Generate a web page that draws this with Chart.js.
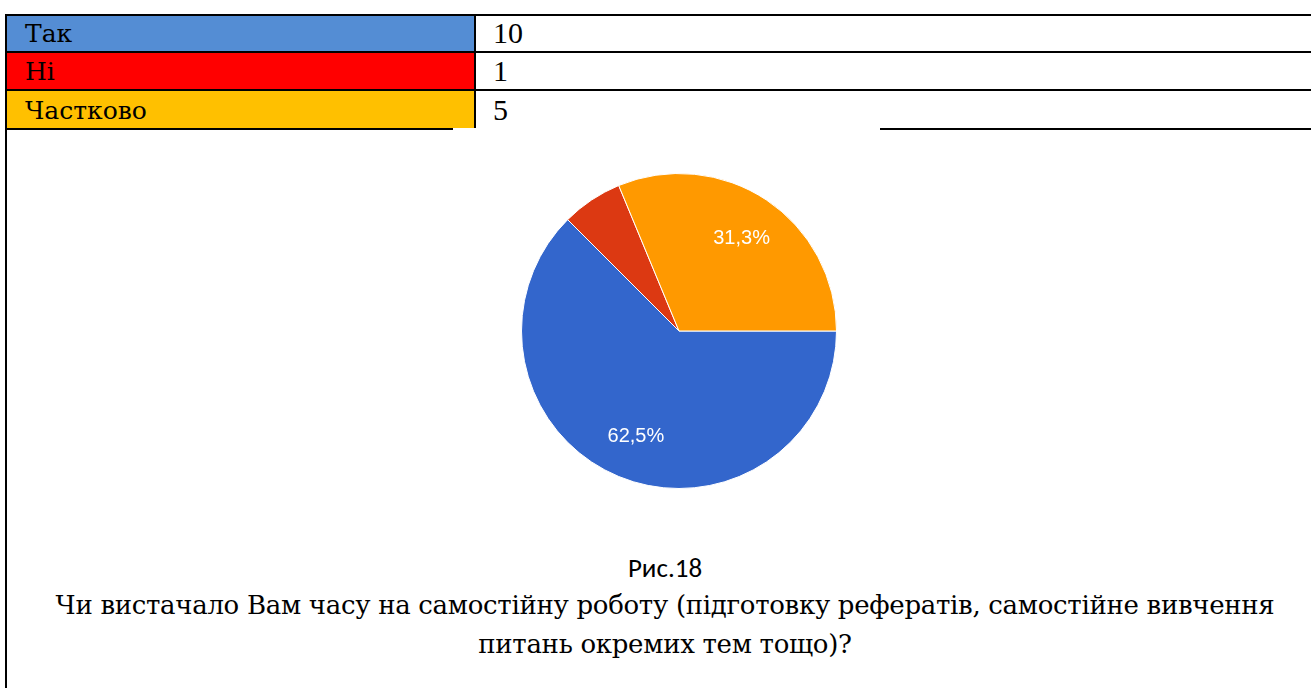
<!DOCTYPE html>
<html lang="uk">
<head>
<meta charset="utf-8">
<title>Рис.18</title>
<script src="https://cdn.jsdelivr.net/npm/chart.js@4.4.1/dist/chart.umd.min.js"></script>
<style>
  html, body { margin: 0; padding: 0; background: #fff; }
  body { width: 1311px; height: 688px; position: relative; overflow: hidden; }
  .rule { position: absolute; background: #000; }
  .fill { position: absolute; }
  .cell {
    position: absolute; white-space: nowrap; color: #000;
    font-family: "DejaVu Serif", serif;
    font-size: 25px; line-height: 36px;
  }
  .cell.num { font-family: "Liberation Serif", "Times New Roman", serif; font-size: 30px; }
  #pie-wrap { position: absolute; left: 479px; top: 131px; width: 400px; height: 400px; }
  #fig-num {
    position: absolute; left: 0; width: 1330px; top: 551px; text-align: center;
    font-family: Calibri, Carlito, "Open Sans", sans-serif; font-size: 27px; line-height: 33px;
  }
  #fig-title {
    position: absolute; left: 0; width: 1330px; top: 586px; text-align: center;
    font-family: "DejaVu Serif", serif; font-size: 26px; line-height: 39px;
    letter-spacing: -0.3px;
  }
</style>
</head>
<body>
<div id="table"></div>
<div id="pie-wrap"><canvas id="chart-pie"></canvas></div>
<div id="fig-num">Рис.18</div>
<div id="fig-title">Чи вистачало Вам часу на самостійну роботу (підготовку рефератів, самостійне вивчення<br>питань окремих тем тощо)?</div>

<script>
// відповіді та кількість
const LABELS = ['Так', 'Ні', 'Частково'];
const VALUES = [10, 1, 5];
const TABLE_COLORS = ['#548dd4', '#ff0000', '#ffc000'];
const PIE_COLORS = ['#3366cc', '#dc3912', '#ff9900'];

// таблиця над діаграмою
function buildTable() {
  const root = document.getElementById('table');
  const add = (cls, css, text) => {
    const d = document.createElement('div');
    d.className = cls;
    Object.assign(d.style, css);
    if (text != null) d.textContent = text;
    root.appendChild(d);
  };
  const rowLines = [14, 51, 89];
  LABELS.forEach((lab, i) => {
    const top = rowLines[i] + 2;
    const bottom = i < 2 ? rowLines[i + 1] : 128;
    add('fill', { left: '7px', top: top + 'px', width: '467px', height: (bottom - top) + 'px', background: TABLE_COLORS[i] });
    add('cell', { left: '25px', top: (top + i) + 'px' }, lab);
    add('cell num', { left: '493px', top: (top - 1 + i) + 'px' }, String(VALUES[i]));
  });
  rowLines.forEach(y => add('rule', { left: '5px', top: y + 'px', width: '1306px', height: '2px' }));
  // нижня лінія таблиці з розривом
  add('rule', { left: '5px', top: '128px', width: '448px', height: '2px' });
  add('rule', { left: '880px', top: '128px', width: '431px', height: '2px' });
  // вертикальні лінії
  add('rule', { left: '5px', top: '14px', width: '2px', height: '674px' });
  add('rule', { left: '474px', top: '14px', width: '2px', height: '114px' });
}

// підписи відсотків всередині сегментів
const sliceLabels = {
  id: 'sliceLabels',
  afterDatasetsDraw(chart) {
    const { ctx } = chart;
    const total = VALUES.reduce((s, v) => s + v, 0);
    ctx.save();
    ctx.fillStyle = '#fff';
    ctx.font = '20px "Liberation Sans", Arial, sans-serif';
    ctx.textAlign = 'center';
    ctx.textBaseline = 'alphabetic';
    chart.getDatasetMeta(0).data.forEach((arc, i) => {
      const pct = VALUES[i] / total * 100;
      if (pct < 10) return;
      const { x, y, startAngle, endAngle, outerRadius } =
        arc.getProps(['x', 'y', 'startAngle', 'endAngle', 'outerRadius'], true);
      const mid = (startAngle + endAngle) / 2;
      const r = outerRadius * 0.715;
      ctx.fillText(pct.toFixed(1).replace('.', ',') + '%', x + Math.cos(mid) * r, y + Math.sin(mid) * r + 7);
    });
    ctx.restore();
  },
};

buildTable();

new Chart(document.getElementById('chart-pie'), {
  type: 'pie',
  data: {
    labels: LABELS,
    datasets: [{
      data: VALUES,
      backgroundColor: PIE_COLORS,
      borderColor: '#fff',
      borderWidth: 1,
      hoverOffset: 0,
    }],
  },
  options: {
    responsive: true,
    maintainAspectRatio: false,
    animation: false,
    rotation: 90,
    layout: { padding: 42 },
    plugins: {
      legend: { display: false },
      tooltip: { enabled: true },
    },
  },
  plugins: [sliceLabels],
});
</script>
</body>
</html>
